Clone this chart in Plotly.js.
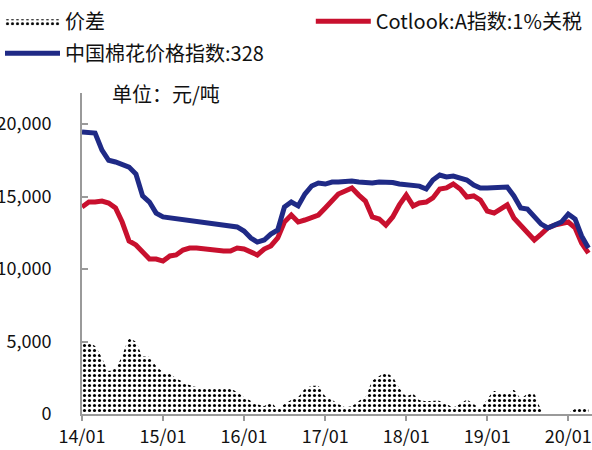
<!DOCTYPE html>
<html>
<head>
<meta charset="utf-8">
<script src="https://cdn.plot.ly/plotly-3.0.1.min.js"></script>
<style>html,body{margin:0;padding:0;background:#fff;}#chart{width:592px;height:450px;}</style>
</head>
<body>
<div id="chart"></div>
<script>
// Monthly data, 2014-01 to 2020-04
var startYear = 2014, startMonth = 1, nMonths = 76;
var chinaIndex = [19450,19450,19380,18200,17500,17380,17240,17030,16550,15040,14620,13860,
  13590,13520,13520,13450,13380,13310,13240,13170,13100,13030,12970,12900,
  12620,12140,11860,12000,12410,12690,14280,14620,14350,15170,15730,15930,
  15860,16000,16000,16070,16070,16000,15930,15930,16000,16000,15970,15860,
  15790,15720,15720,15520,16140,16480,16350,16410,16280,16140,15790,15590,
  15590,15590,15660,15660,15040,14210,14140,13590,13100,12830,13030,13240,
  13790,13450,12280,11450];
var cotlookIndex = [14280,14620,14620,14690,14550,14210,13240,11930,11660,11170,10690,10690,
  10550,10900,10970,11310,11450,11450,11380,11310,11310,11240,11240,11450,
  11380,11170,10970,11380,11590,12140,13240,13720,13240,13380,13520,13720,
  14210,14760,15170,15380,15590,15100,14690,13590,13450,13030,13590,14420,
  15100,14350,14550,14620,14900,15520,15590,15860,15520,14970,15040,14760,
  14000,13860,14140,14420,13520,12970,12550,12000,12410,12830,13030,13170,
  13240,12830,11790,11100];
var spread = [5030,4900,4690,3860,2970,3170,4000,5170,4970,4000,3930,3310,
  2900,2760,2480,2210,2000,1860,1860,1790,1790,1790,1720,1520,
  1170,900,690,550,830,340,690,970,1170,1720,1930,1930,
  1240,970,690,480,550,900,1170,2280,2620,2830,2550,1790,
  1240,1380,970,900,900,900,690,480,690,970,690,410,
  1030,1590,1450,1380,1650,1100,1380,1380,280,-70,0,0,
  70,340,410,340];
var yTickVals = [0,5000,10000,15000,20000];
var yTickText = ['0','5,000','10,000','15,000','20,000'];
var xTickVals = ['2014-01-01','2015-01-01','2016-01-01','2017-01-01','2018-01-01','2019-01-01','2020-01-01'];
var xTickText = ['14/01','15/01','16/01','17/01','18/01','19/01','20/01'];
var nameSpread = '价差';
var nameCotlook = 'Cotlook:A指数:1%关税';
var nameChina = '中国棉花价格指数:328';
var unitText = '单位：元/吨';

var months = [];
for (var i = 0; i < nMonths; i++) {
  var y = startYear + Math.floor((startMonth - 1 + i) / 12);
  var m = ((startMonth - 1 + i) % 12) + 1;
  months.push(y + '-' + (m < 10 ? '0' + m : m) + '-01');
}

var FONT = '"Noto Sans CJK SC", "Noto Sans", sans-serif';

var traces = [
  {x: months, y: spread, name: nameSpread, type: 'scatter', mode: 'lines',
   fill: 'tozeroy', line: {width: 0, color: 'rgba(0,0,0,0)', shape: 'spline', smoothing: 0.6},
   fillcolor: 'white',
   fillpattern: {shape: '.', fgcolor: '#000000', bgcolor: '#ffffff', size: 5, solidity: 0.3},
   legend: 'legend', hoverinfo: 'skip'},
  {x: months, y: cotlookIndex, name: nameCotlook, type: 'scatter', mode: 'lines',
   line: {color: '#C8102E', width: 5}, legend: 'legend2'},
  {x: months, y: chinaIndex, name: nameChina, type: 'scatter', mode: 'lines',
   line: {color: '#1F2A86', width: 5}, legend: 'legend3'}
];

var legendBase = {orientation: 'v', xref: 'container', yref: 'container',
  xanchor: 'left', yanchor: 'top', bgcolor: 'rgba(0,0,0,0)', borderwidth: 0,
  font: {family: FONT, size: 20, color: '#111'}, itemwidth: 55, tracegroupgap: 0};

var layout = {
  width: 592, height: 450,
  margin: {l: 82, r: 0, t: 93, b: 36, pad: 0, autoexpand: false},
  paper_bgcolor: '#ffffff', plot_bgcolor: '#ffffff',
  font: {family: FONT, size: 18, color: '#111'},
  showlegend: true,
  legend: Object.assign({}, legendBase, {x: 0.0, y: 0.996}),
  legend2: Object.assign({}, legendBase, {x: 0.525, y: 0.996}),
  legend3: Object.assign({}, legendBase, {x: 0.0, y: 0.925}),
  xaxis: {type: 'date', range: ['2014-01-01', '2020-04-17'], automargin: false,
    tickvals: xTickVals, ticktext: xTickText, showgrid: false, zeroline: false,
    showline: true, linecolor: '#9a9a9a', linewidth: 2,
    ticks: 'outside', ticklen: 5, tickwidth: 2, tickcolor: '#9a9a9a',
    tickfont: {family: FONT, size: 18, color: '#111'}},
  yaxis: {range: [0, 22140], tickvals: yTickVals, ticktext: yTickText, automargin: false,
    showgrid: false, zeroline: false, showline: true, linecolor: '#9a9a9a', linewidth: 2,
    ticks: 'inside', ticklen: 6, tickwidth: 2, tickcolor: '#9a9a9a',
    ticklabelstandoff: 25,
    tickfont: {family: FONT, size: 18, color: '#111'}},
  annotations: [{text: unitText, xref: 'paper', yref: 'paper', x: 0.165, y: 1.0,
    xanchor: 'center', yanchor: 'middle', showarrow: false,
    font: {family: FONT, size: 20, color: '#111'}}]
};

Plotly.newPlot('chart', traces, layout, {displayModeBar: false, staticPlot: true});
</script>
</body>
</html>
